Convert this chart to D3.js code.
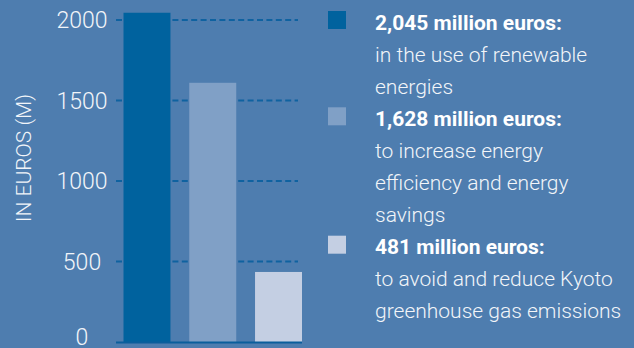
<!DOCTYPE html>
<html>
<head>
<meta charset="utf-8">
<script src="https://cdn.jsdelivr.net/npm/d3@7"></script>
<style>
  html, body { margin: 0; padding: 0; background: #4e7daf; }
  svg { display: block; }
</style>
</head>
<body>
<svg id="chart"></svg>
<script>
let width = 634, height = 348;

// values
let categories = ["renewable", "efficiency", "kyoto"];
let values = [2045, 1610, 435];
let barColors = ["#00629e", "#80a0c6", "#c4cfe3"];
let yTicks = [0, 500, 1000, 1500, 2000];

// legend text
let legendHeads = ["2,045 million euros:", "1,628 million euros:", "481 million euros:"];
let legendBodies = [
  ["in the use of renewable", "energies"],
  ["to increase energy", "efficiency and energy", "savings"],
  ["to avoid and reduce Kyoto", "greenhouse gas emissions"]
];

let svg = d3.select("#chart")
  .attr("width", width)
  .attr("height", height);

svg.append("rect")
  .attr("width", width)
  .attr("height", height)
  .attr("fill", "#4e7daf");

let font = "Roboto, 'Open Sans', sans-serif";
let txtCol = "#f2f5f9";

let xax = d3.scaleBand()
  .domain(categories)
  .range([123.5, 302])
  .paddingInner(0.286)
  .paddingOuter(0);

let yax = d3.scaleLinear()
  .domain([0, 2000])
  .range([342, 20]);

// dashed grid lines behind bars
svg.append("g")
  .selectAll("line")
  .data(yTicks.filter(d => d > 0))
  .join("line")
  .attr("x1", 116)
  .attr("x2", 298)
  .attr("y1", d => yax(d))
  .attr("y2", d => yax(d))
  .attr("stroke", "#0f62a0")
  .attr("stroke-width", 2)
  .attr("stroke-dasharray", "6,3.4");

svg.append("g")
  .selectAll("rect")
  .data(values)
  .join("rect")
  .attr("x", (d, i) => xax(categories[i]))
  .attr("y", d => yax(d))
  .attr("width", xax.bandwidth())
  .attr("height", d => yax(0) - yax(d))
  .attr("fill", (d, i) => barColors[i]);

// baseline
svg.append("line")
  .attr("x1", 116)
  .attr("x2", 302)
  .attr("y1", yax(0) + 0.5)
  .attr("y2", yax(0) + 0.5)
  .attr("stroke", "#0a5e9c")
  .attr("stroke-width", 2);

// tick labels; the 0 is nudged up a little so it stays inside the frame
svg.append("g")
  .selectAll("text")
  .data(yTicks)
  .join("text")
  .attr("x", 82)
  .attr("y", d => d === 0 ? yax(d) - 5 : yax(d))
  .attr("dy", "0.36em")
  .attr("text-anchor", "middle")
  .attr("font-family", font)
  .attr("font-weight", 300)
  .attr("font-size", 23)
  .attr("fill", txtCol)
  .text(d => d);

svg.append("text")
  .text("IN EUROS (M)")
  .attr("text-anchor", "middle")
  .attr("transform", "translate(23, 158) rotate(-90)")
  .attr("dy", "0.36em")
  .attr("font-family", font)
  .attr("font-weight", 300)
  .attr("font-size", 21)
  .attr("fill", txtCol);

// legend
let lineH = 32.1, base0 = 29.5;
let line = 0;
legendHeads.forEach((head, i) => {
  let y = base0 + line * lineH;
  svg.append("rect")
    .attr("x", 328)
    .attr("y", y - 18.5)
    .attr("width", 18)
    .attr("height", 18)
    .attr("fill", barColors[i]);
  svg.append("text")
    .attr("x", 375)
    .attr("y", y)
    .attr("font-family", font)
    .attr("font-weight", 700)
    .attr("font-size", 21)
    .attr("fill", "#ffffff")
    .text(head);
  line++;
  legendBodies[i].forEach(t => {
    svg.append("text")
      .attr("x", 375)
      .attr("y", base0 + line * lineH)
      .attr("font-family", font)
      .attr("font-weight", 300)
      .attr("font-size", 21)
      .attr("fill", txtCol)
      .text(t);
    line++;
  });
});
</script>
</body>
</html>
